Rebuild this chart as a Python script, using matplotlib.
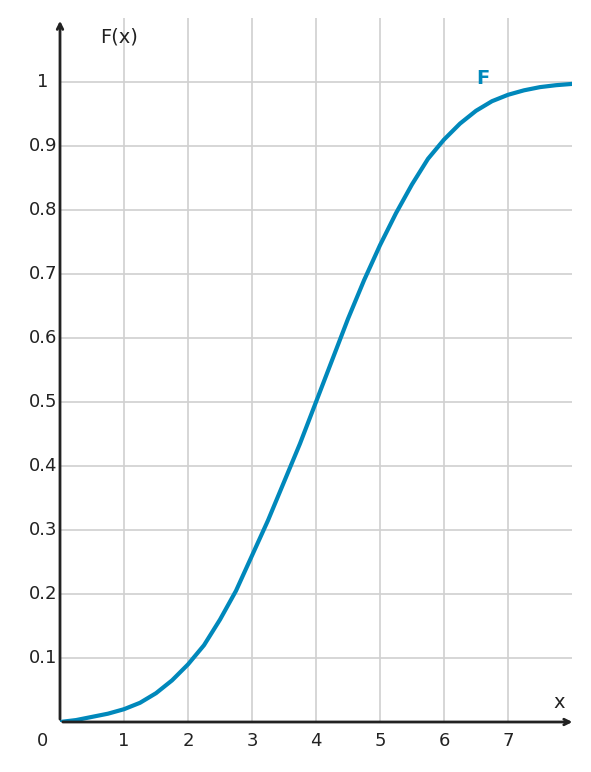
import matplotlib.pyplot as plt

# values
x_vals = [0, 0.25, 0.5, 0.75, 1, 1.25, 1.5, 1.75, 2, 2.25, 2.5, 2.75, 3, 3.25, 3.5, 3.75,
          4, 4.25, 4.5, 4.75, 5, 5.25, 5.5, 5.75, 6, 6.25, 6.5, 6.75, 7, 7.25, 7.5, 7.75, 8]
f_vals = [0.0, 0.003, 0.008, 0.013, 0.02, 0.03, 0.045, 0.065, 0.09, 0.12, 0.16, 0.205, 0.26,
          0.315, 0.375, 0.435, 0.5, 0.565, 0.63, 0.69, 0.745, 0.795, 0.84, 0.88, 0.91, 0.935,
          0.955, 0.97, 0.98, 0.987, 0.992, 0.995, 0.997]
x_ticks = [1, 2, 3, 4, 5, 6, 7]
y_ticks = [0.1, 0.2, 0.3, 0.4, 0.5, 0.6, 0.7, 0.8, 0.9, 1]

blue = '#0088bb'
dark = '#222222'

fig = plt.figure(figsize=(5.91, 7.72), dpi=100)
ax = fig.add_axes([60 / 591, 50 / 772, 512 / 591, 704 / 772])
ax.set_xlim(0, 8)
ax.set_ylim(0, 1.1)

for xt in x_ticks:
    ax.axvline(xt, color='#d0d0d0', lw=1.2, zorder=0)
for yt in y_ticks:
    ax.axhline(yt, color='#d0d0d0', lw=1.2, zorder=0)

ax.plot(x_vals, f_vals, color=blue, lw=3, solid_capstyle='round', zorder=3)

for s in ax.spines.values():
    s.set_visible(False)
ax.set_xticks([])
ax.set_yticks([])

ax.annotate('', xy=(8.05, 0), xytext=(0, 0), annotation_clip=False,
            arrowprops=dict(arrowstyle='->', color=dark, lw=2))
ax.annotate('', xy=(0, 1.1), xytext=(0, 0), annotation_clip=False,
            arrowprops=dict(arrowstyle='->', color=dark, lw=2))

fs = 13
for xt in x_ticks:
    ax.text(xt, -0.03, str(xt), ha='center', va='center', fontsize=fs, color=dark)
for yt in y_ticks:
    ax.text(-0.27, yt, f'{yt:g}', ha='center', va='center', fontsize=fs, color=dark)
ax.text(-0.27, -0.03, '0', ha='center', va='center', fontsize=fs, color=dark)
ax.text(0.63, 1.07, 'F(x)', ha='left', va='center', fontsize=fs + 1, color=dark)
ax.text(7.8, 0.03, 'x', ha='center', va='center', fontsize=fs + 1, color=dark)
ax.text(6.6, 1.006, 'F', ha='center', va='center', fontsize=fs + 1,
        color=blue, fontweight='bold')

fig.savefig('out.png', dpi=100)
